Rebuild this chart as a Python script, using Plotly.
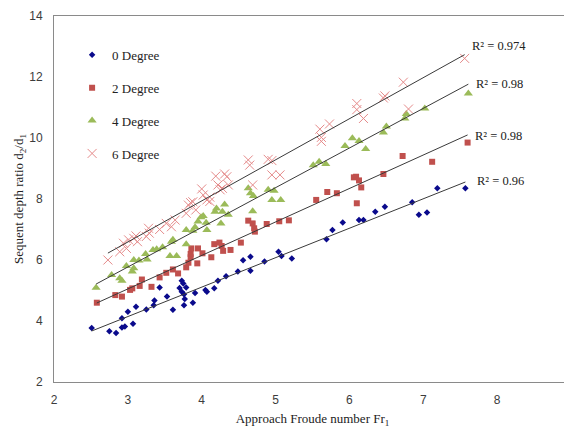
import numpy as np
import plotly.graph_objects as go

# ---- data ----
deg0_x = [2.51, 2.75, 2.84, 2.92, 2.96, 3.07, 2.92, 3.00, 3.11, 3.25, 3.35, 3.36, 3.43, 3.53, 3.61,
          3.70, 3.73, 3.75, 3.79, 3.73, 3.76, 3.77, 3.76, 3.88, 3.91, 4.05, 4.07, 4.17, 4.22, 4.33,
          4.49, 4.56, 4.66, 4.66, 4.85, 5.04, 5.08, 5.22, 5.69, 5.77, 5.91, 6.13, 6.19, 6.35, 6.48,
          6.85, 6.94, 7.05, 7.19, 7.57]
deg0_y = [3.77, 3.66, 3.61, 3.79, 3.82, 3.91, 4.09, 4.30, 4.47, 4.38, 4.52, 4.67, 5.10, 4.80, 4.37,
          5.08, 5.32, 5.23, 5.10, 4.96, 4.88, 4.72, 4.52, 4.60, 4.92, 5.02, 4.96, 5.07, 5.32, 5.47,
          5.62, 5.99, 5.65, 6.11, 5.95, 6.27, 6.13, 6.05, 6.68, 6.98, 7.23, 7.31, 7.31, 7.58, 7.75,
          7.89, 7.48, 7.56, 8.35, 8.35]

deg2_x = [2.58, 2.83, 2.92, 3.03, 3.06, 3.16, 3.19, 3.32, 3.43, 3.52, 3.61, 3.68, 3.79, 3.82, 3.85,
          3.85, 3.86, 3.94, 3.95, 4.01, 4.13, 4.17, 4.24, 4.27, 4.29, 4.39, 4.53, 4.63, 4.69, 4.71,
          4.72, 4.88, 5.05, 5.18, 5.55, 5.70, 5.83, 6.06, 6.09, 6.13, 6.16, 6.10, 6.46, 6.72, 7.12,
          7.60]
deg2_y = [4.60, 4.85, 4.80, 5.02, 5.07, 5.15, 5.36, 5.12, 5.43, 5.58, 5.69, 5.56, 5.76, 5.91, 6.09,
          6.20, 6.38, 5.89, 6.38, 6.22, 6.09, 6.52, 6.57, 6.46, 6.30, 6.33, 6.57, 7.29, 7.20, 7.04,
          6.93, 7.18, 7.27, 7.30, 7.97, 8.23, 8.19, 8.71, 8.73, 8.61, 8.38, 7.86, 8.82, 9.41, 9.22,
          9.85]

deg4_x = [2.57, 2.78, 2.89, 2.92, 2.98, 3.06, 3.08, 3.08, 3.15, 3.24, 3.26, 3.34, 3.39, 3.47, 3.57,
          3.66, 3.59, 3.61, 3.79, 3.79, 3.88, 3.91, 3.95, 3.99, 4.02, 4.06, 4.07, 4.18, 4.20, 4.28,
          4.26, 4.31, 4.36, 4.63, 4.66, 4.70, 4.69, 4.90, 4.98, 4.95, 5.07, 5.51, 5.59, 5.68, 5.94,
          6.04, 6.13, 6.22, 6.46, 6.50, 6.75, 6.77, 7.02, 7.61]
deg4_y = [5.09, 5.51, 5.40, 5.32, 5.80, 5.62, 5.73, 6.00, 5.98, 6.20, 6.02, 6.33, 6.35, 6.42, 6.13,
          6.13, 6.60, 6.66, 6.98, 6.52, 6.96, 7.07, 7.26, 7.40, 7.44, 7.22, 6.98, 7.58, 7.69, 7.58,
          7.20, 7.82, 7.48, 8.35, 8.19, 8.10, 7.60, 8.30, 8.27, 7.97, 7.97, 9.11, 9.22, 9.15, 9.74,
          9.99, 9.90, 9.64, 10.18, 10.38, 10.64, 10.79, 10.97, 11.46]

deg6_x = [2.73, 2.89, 2.94, 2.98, 3.01, 3.08, 3.11, 3.13, 3.25, 3.28, 3.29, 3.43, 3.52, 3.59, 3.64,
          3.79, 3.82, 3.85, 3.88, 3.92, 4.00, 4.02, 4.07, 4.11, 4.11, 4.19, 4.22, 4.28, 4.31, 4.34,
          4.25, 4.36, 4.63, 4.65, 4.69, 4.90, 4.95, 4.95, 5.06, 5.60, 5.62, 5.73, 5.62, 6.10, 6.10,
          6.19, 6.46, 6.48, 6.73, 6.80, 7.56]
deg6_y = [6.00, 6.27, 6.55, 6.38, 6.66, 6.71, 6.79, 6.60, 6.77, 7.04, 6.88, 7.00, 7.20, 7.09, 7.31,
          7.53, 7.80, 7.88, 7.91, 7.64, 8.33, 8.13, 7.97, 8.06, 7.92, 8.75, 8.46, 8.35, 8.82, 8.73,
          8.30, 8.46, 9.28, 9.11, 8.46, 9.30, 9.26, 8.79, 8.79, 10.29, 10.02, 10.46, 9.89, 11.13, 10.93,
          10.64, 11.31, 11.38, 11.83, 10.95, 12.61]

series_names = ["0 Degree", "2 Degree", "4 Degree", "6 Degree"]
r2_labels = ["R² = 0.96", "R² = 0.98", "R² = 0.98", "R² = 0.974"]

x_ticks = [2, 3, 4, 5, 6, 7, 8, 9]
y_ticks = [2, 4, 6, 8, 10, 12, 14]

# ---- styling ----
styles = [
    dict(symbol="diamond", size=5, color="#0A0A8C", line=dict(width=0)),
    dict(symbol="square", size=6, color="#C0504D", line=dict(width=0)),
    dict(symbol="triangle-up", size=8, color="#9BBB59", line=dict(width=0)),
    dict(symbol="x-thin", size=9, color="#E58A8A", line=dict(width=1, color="#E58A8A")),
]
label_offsets = [(0.13, 0.02), (0.07, -0.05), (0.07, 0.02), (0.07, 0.30)]

fig = go.Figure()
all_data = [(deg0_x, deg0_y), (deg2_x, deg2_y), (deg4_x, deg4_y), (deg6_x, deg6_y)]

for i, ((xs, ys), name) in enumerate(zip(all_data, series_names)):
    fig.add_trace(go.Scatter(x=xs, y=ys, mode="markers", name=name, marker=styles[i],
                             legendgroup=name, legendrank=i))

for i, ((xs, ys), lab) in enumerate(zip(all_data, r2_labels)):
    xs_a = np.array(xs)
    ys_a = np.array(ys)
    m, b = np.polyfit(xs_a, ys_a, 1)
    xl = np.array([xs_a.min(), xs_a.max()])
    yl = m * xl + b
    fig.add_trace(go.Scatter(x=xl, y=yl, mode="lines", line=dict(color="#3a3a3a", width=1),
                             showlegend=False, hoverinfo="skip"))
    dx, dy = label_offsets[i]
    fig.add_annotation(x=xl[1] + dx, y=yl[1] + dy, text=lab, showarrow=False,
                       xanchor="left", yanchor="middle",
                       font=dict(family="Liberation Serif", size=12.5, color="#222"))

axis_common = dict(showgrid=False, zeroline=False, showline=True, mirror=True,
                   linecolor="#8a8a8a", linewidth=1, ticks="",
                   tickfont=dict(family="Liberation Sans", size=12, color="#3c3c3c"),
                   automargin=False, ticklabeloverflow="allow")

fig.update_xaxes(range=[2, 9], tickvals=x_ticks, ticklabelstandoff=7,
                 title=dict(text="Approach Froude number Fr<sub>1</sub>", standoff=7,
                            font=dict(family="Liberation Serif", size=13, color="#222")),
                 **axis_common)
fig.update_yaxes(range=[2, 14], tickvals=y_ticks, ticklabelstandoff=8,
                 title=dict(text="Sequent depth ratio d<sub>2</sub>/d<sub>1</sub>", standoff=2,
                            font=dict(family="Liberation Serif", size=13, color="#222")),
                 **axis_common)

# page body has an 8px margin, so the figure is 8px smaller and margins shifted
fig.update_layout(
    width=564, height=425,
    margin=dict(l=46, r=1, t=8, b=51),
    paper_bgcolor="white", plot_bgcolor="white",
    showlegend=True,
    legend=dict(x=0.035, y=0.935, xanchor="left", yanchor="top",
                font=dict(family="Liberation Serif", size=13, color="#222"),
                tracegroupgap=13, itemwidth=30, bgcolor="rgba(0,0,0,0)"),
)

fig.write_html("out.html")
